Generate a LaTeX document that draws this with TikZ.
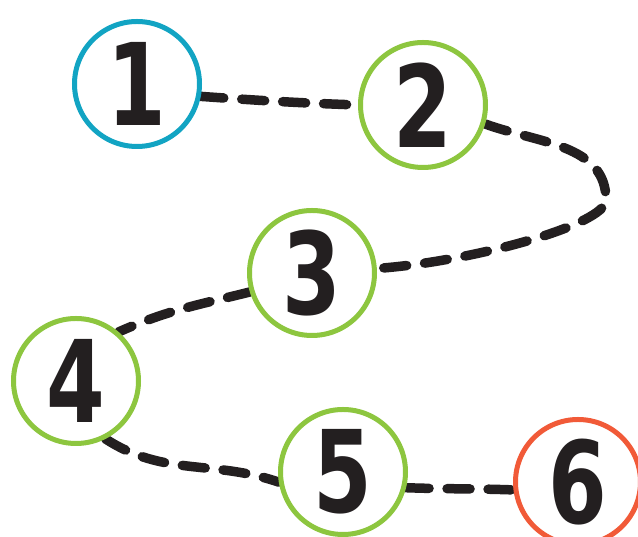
\documentclass[tikz,border=0pt]{standalone}
\usepackage{fontspec}
\usepackage{graphicx}
\usetikzlibrary{backgrounds}
\setmainfont{DejaVu Sans}
\definecolor{ringblue}{HTML}{12A4C3}
\definecolor{ringgreen}{HTML}{8DC63F}
\definecolor{ringred}{HTML}{F15A38}
\definecolor{trailink}{HTML}{231F20}
\newcommand{\bignum}[1]{\scalebox{0.74}[1]{\fontsize{114}{114}\selectfont\bfseries #1}}
\tikzset{
  ring/.style={circle, draw, line width=5pt, fill=white, minimum size=125pt,
               inner sep=0pt, text=trailink},
  trail/.style={draw=trailink, line width=9.5pt, line cap=round,
                dash pattern=on 23pt off 18pt},
}

\begin{document}
\begin{tikzpicture}[x=1pt,y=1pt]
  \useasboundingbox (0,0) rectangle (638,537);
  % stops along the path (y measured up from the bottom edge)
  \node[ring,draw=ringblue]  (c1) at (137,453) {\bignum{1}};
  \node[ring,draw=ringgreen] (c2) at (423,432) {\bignum{2}};
  \node[ring,draw=ringgreen] (c3) at (312,264) {\bignum{3}};
  \node[ring,draw=ringgreen] (c4) at (76,156)  {\bignum{4}};
  \node[ring,draw=ringgreen] (c5) at (343,65)  {\bignum{5}};
  \node[ring,draw=ringred]   (c6) at (578,55)  {\bignum{6}};
  % dashed trail, kept behind the rings
  \coordinate (far) at (606,337);
  \begin{scope}[on background layer]
    \draw[trail] (c1.-11) to[out=-4,in=178] (c2.180);
    \draw[trail] (c2.-17) to[out=-20,in=90] (far)
      .. controls (606,312) and (470,275) .. (c3.4);
    \draw[trail] (c3.197) to[out=194,in=24] (c4.49);
    \draw[trail] (c4.-63) to[out=-33,in=161] (c5.189);
    \draw[trail] (c5.-14) to[out=-2,in=178] (c6.187);
  \end{scope}
\end{tikzpicture}
\end{document}
